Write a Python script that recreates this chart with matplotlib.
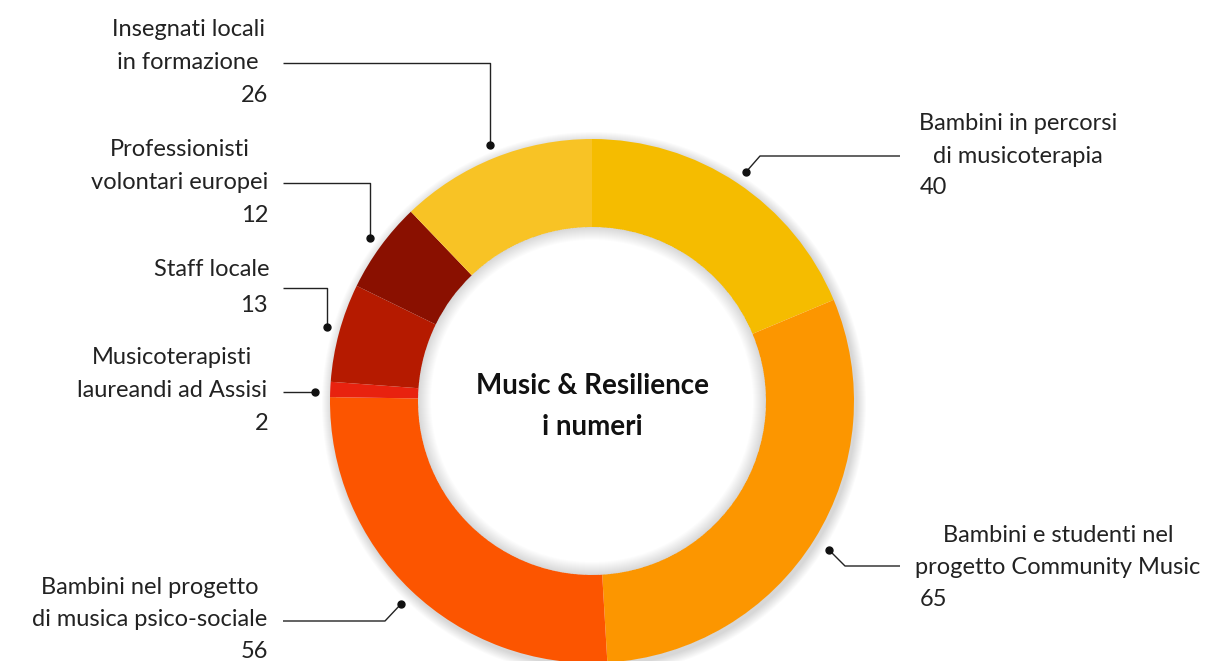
import matplotlib
matplotlib.use("Agg")
import matplotlib.pyplot as plt
from matplotlib.patches import Wedge, Circle

# ----------------------------------------------------------------------
# Data
# ----------------------------------------------------------------------
labels = [
    "Bambini in percorsi\ndi musicoterapia",
    "Bambini e studenti nel\nprogetto Community Music",
    "Bambini nel progetto\ndi musica psico-sociale",
    "Musicoterapisti\nlaureandi ad Assisi",
    "Staff locale",
    "Professionisti\nvolontari europei",
    "Insegnati locali\nin formazione",
]
values = [40, 65, 56, 2, 13, 12, 26]
colors = ["#F5BC00", "#FC9600", "#FC5500", "#E8220F", "#B51A00", "#8A1000", "#F8C325"]

W, H = 1205, 661
FONT = "Lato"
FS = 17


def Y(y):
    """pixel row (top-down) -> data y (bottom-up)"""
    return H - y


fig = plt.figure(figsize=(W / 100, H / 100), dpi=100)
ax = fig.add_axes([0, 0, 1, 1])

cx, cy = 592, Y(401)
r_out, r_in = 262, 174

ax.pie(values, colors=colors, startangle=90, counterclock=False,
       center=(cx, cy), radius=r_out,
       wedgeprops=dict(width=r_out - r_in, linewidth=0, zorder=3), frame=True)
ax.set_xlim(0, W)
ax.set_ylim(0, H)
ax.set_aspect("equal")
ax.axis("off")

# soft outer shadow (rings just outside the donut)
for k in range(1, 11):
    ax.add_patch(Wedge((cx + 2, cy - 3), r_out + k, 0, 360, width=k + 4,
                       color="black", alpha=0.015, lw=0, zorder=1))

# inner shadow inside the hole
for k in range(1, 14):
    ax.add_patch(Wedge((cx, cy), r_in, 0, 360, width=k, color="black",
                       alpha=0.011, lw=0, zorder=5))

ax.text(cx, Y(386), "Music & Resilience", ha="center", va="center",
        fontsize=20, fontweight="bold", family=FONT, color="#111111", zorder=6)
ax.text(cx, Y(427), "i numeri", ha="center", va="center",
        fontsize=20, fontweight="bold", family=FONT, color="#111111", zorder=6)

# leader lines: dot position then path points (pixel coords)
leaders = [
    [(746, 172), (760, 156), (900, 156)],
    [(829, 550), (845, 566), (900, 566)],
    [(401, 604), (385, 621), (283, 621)],
    [(315, 392), (283, 392)],
    [(327, 327), (327, 288), (283, 288)],
    [(370, 238), (370, 183), (283, 183)],
    [(490, 145), (490, 63), (283, 63)],
]
for pts in leaders:
    xs = [p[0] for p in pts]
    ys = [Y(p[1]) for p in pts]
    ax.plot(xs, ys, color="#222222", lw=1.0, zorder=7, solid_capstyle="butt")
    ax.plot(xs[0], ys[0], "o", color="#111111", ms=5, zorder=8)

# label text: (center x, first-line y, number x, number y, number ha)
label_pos = [
    (1018, 124, 920, 188, "left"),
    (1058, 535, 920, 600, "left"),
    (150, 587, 268, 652, "right"),
    (172, 358, 268, 423, "right"),
    (212, 270, 268, 305, "right"),
    (180, 150, 268, 216, "right"),
    (188, 30, 268, 96, "right"),
]
for lab, val, (lx, ly, nx, ny, nha) in zip(labels, values, label_pos):
    for i, line in enumerate(lab.split("\n")):
        ax.text(lx, Y(ly + i * 32.5), line, ha="center", va="center",
                fontsize=FS, family=FONT, color="#222222", zorder=9)
    ax.text(nx, Y(ny), str(val), ha=nha, va="center",
            fontsize=FS, family=FONT, color="#222222", zorder=9)

fig.savefig("out.png", dpi=100, facecolor="white")
